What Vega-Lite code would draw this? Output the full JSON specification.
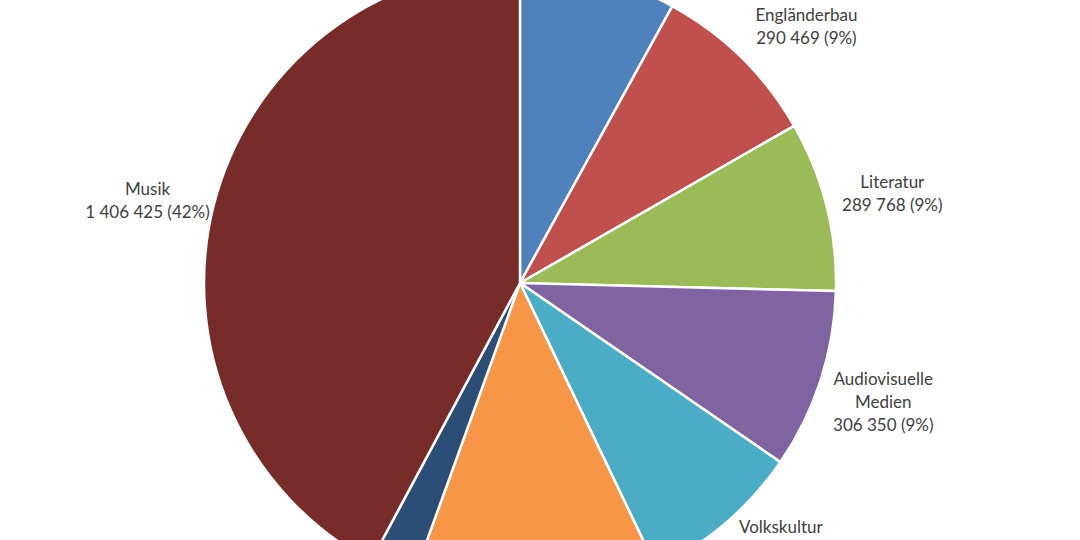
{
  "$schema": "https://vega.github.io/schema/vega-lite/v6.json",
  "autosize": {"type": "none"},
  "width": 1040,
  "height": 514,
  "padding": {"left": 0, "right": 40, "top": 26, "bottom": 0},
  "background": "white",
  "config": {"view": {"stroke": null}, "text": {"font": "Lato", "fontSize": 17, "lineBreak": "\n", "lineHeight": 23, "align": "center", "baseline": "middle", "radius": 383}},
  "data": {
    "values": [
      {"nr": 1, "Bereich": "Bildende Kunst", "Betrag": 267000, "label": "Bildende Kunst\n267 000 (8%)"},
      {"nr": 2, "Bereich": "Engländerbau", "Betrag": 290469, "label": "Engländerbau\n290 469 (9%)"},
      {"nr": 3, "Bereich": "Literatur", "Betrag": 289768, "label": "Literatur\n289 768 (9%)"},
      {"nr": 4, "Bereich": "Audiovisuelle Medien", "Betrag": 306350, "label": "Audiovisuelle\nMedien\n306 350 (9%)"},
      {"nr": 5, "Bereich": "Volkskultur", "Betrag": 277000, "label": "Volkskultur\n277 000 (8%)"},
      {"nr": 6, "Bereich": "Theater", "Betrag": 421000, "label": "Theater\n421 000 (13%)"},
      {"nr": 7, "Bereich": "Diverses", "Betrag": 77000, "label": "Diverses\n77 000 (2%)"},
      {"nr": 8, "Bereich": "Musik", "Betrag": 1406425, "label": "Musik\n1 406 425 (42%)"}
    ]
  },
  "encoding": {
    "theta": {"field": "Betrag", "type": "quantitative", "stack": true},
    "order": {"field": "nr", "type": "quantitative", "sort": "ascending"},
    "color": {
      "field": "Bereich",
      "type": "nominal",
      "scale": {
        "domain": ["Bildende Kunst", "Engländerbau", "Literatur", "Audiovisuelle Medien", "Volkskultur", "Theater", "Diverses", "Musik"],
        "range": ["#4F81BD", "#C0504D", "#9BBB59", "#8064A2", "#4BACC6", "#F79646", "#2C4D75", "#772C2A"]
      },
      "legend": null
    }
  },
  "layer": [
    {"mark": {"type": "arc", "radius": 316, "stroke": "white", "strokeWidth": 2.5}},
    {
      "mark": {"type": "text", "dx": -1, "dy": 0},
      "encoding": {
        "text": {"condition": {"test": "indexof(['Bildende Kunst', 'Theater', 'Diverses', 'Musik'], datum.Bereich) >= 0", "field": "label"}, "value": ""},
        "color": {"value": "#404040"}
      }
    },
    {
      "mark": {"type": "text", "dx": 18, "dy": 6},
      "encoding": {
        "text": {"condition": {"test": "datum.Bereich === 'Engländerbau'", "field": "label"}, "value": ""},
        "color": {"value": "#404040"}
      }
    },
    {
      "mark": {"type": "text", "dx": 1, "dy": -6},
      "encoding": {
        "text": {"condition": {"test": "datum.Bereich === 'Literatur'", "field": "label"}, "value": ""},
        "color": {"value": "#404040"}
      }
    },
    {
      "mark": {"type": "text", "dx": -1, "dy": -21},
      "encoding": {
        "text": {"condition": {"test": "datum.Bereich === 'Audiovisuelle Medien'", "field": "label"}, "value": ""},
        "color": {"value": "#404040"}
      }
    },
    {
      "mark": {"type": "text", "dx": 12, "dy": -46},
      "encoding": {
        "text": {"condition": {"test": "datum.Bereich === 'Volkskultur'", "field": "label"}, "value": ""},
        "color": {"value": "#404040"}
      }
    }
  ]
}
